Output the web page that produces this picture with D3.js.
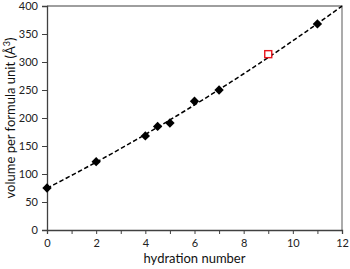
<!DOCTYPE html>
<html>
<head>
<meta charset="utf-8">
<script src="https://cdn.jsdelivr.net/npm/d3@7"></script>
<style>
  body { margin: 0; background: #fff; }
  text { font-family: "Lato", "Open Sans", sans-serif; }
</style>
</head>
<body>
<svg id="chart" width="350" height="269"></svg>
<script>
// measured hydrates (hydration number, volume per formula unit)
var hydration = [0, 2, 4, 4.5, 5, 6, 7, 11];
var volume = [75, 122, 168, 185, 191, 230, 250, 368];
// predicted point (open red square)
var predHydration = [9];
var predVolume = [314];
var xTicks = [0, 2, 4, 6, 8, 10, 12];
var yTicks = [0, 50, 100, 150, 200, 250, 300, 350, 400];

var margin = {top: 6, right: 8, bottom: 39, left: 47}
  , width = 350 - margin.left - margin.right
  , height = 269 - margin.top - margin.bottom;

var x = d3.scaleLinear().domain([0, 12]).range([0, width]);
var y = d3.scaleLinear().domain([0, 400]).range([height, 0]);

var svg = d3.select("#chart");
var g = svg.append("g")
  .attr("transform", "translate(" + margin.left + "," + margin.top + ")");

// frame (top / right)
g.append("path")
  .attr("d", "M0,0H" + width + "V" + height)
  .attr("fill", "none")
  .attr("stroke", "#7f7f7f")
  .attr("stroke-width", 1.3);

// x axis
var xAxis = g.append("g")
  .attr("transform", "translate(0," + height + ")")
  .call(d3.axisBottom(x).tickValues(d3.range(0, 13, 1)).tickSize(4).tickFormat(d => xTicks.includes(d) ? d : ""));
xAxis.select(".domain").attr("stroke", "#404040").attr("stroke-width", 1.3);
xAxis.selectAll("line").attr("stroke", "#404040");
xAxis.selectAll("text").attr("font-size", 11).attr("fill", "#222").attr("dy", "0.95em");

// y axis
var yAxis = g.append("g")
  .call(d3.axisLeft(y).tickValues(yTicks).tickSize(5).tickPadding(4));
yAxis.select(".domain").attr("stroke", "#404040").attr("stroke-width", 1.3);
yAxis.selectAll("line").attr("stroke", "#404040");
yAxis.selectAll("text").attr("font-size", 11).attr("fill", "#222");

// quadratic least squares trend line through the measured points
function quadFit(xs, ys) {
  var s = [0, 0, 0, 0, 0], t = [0, 0, 0];
  xs.forEach((xv, i) => {
    for (var k = 0; k < 5; k++) s[k] += Math.pow(xv, k);
    for (var k = 0; k < 3; k++) t[k] += ys[i] * Math.pow(xv, k);
  });
  var A = [[s[0], s[1], s[2], t[0]], [s[1], s[2], s[3], t[1]], [s[2], s[3], s[4], t[2]]];
  for (var i = 0; i < 3; i++) {
    for (var j = i + 1; j < 3; j++) {
      var f = A[j][i] / A[i][i];
      for (var k = i; k < 4; k++) A[j][k] -= f * A[i][k];
    }
  }
  var c = [0, 0, 0];
  for (var i = 2; i >= 0; i--) {
    var sum = A[i][3];
    for (var k = i + 1; k < 3; k++) sum -= A[i][k] * c[k];
    c[i] = sum / A[i][i];
  }
  return c;
}
var coef = quadFit(hydration, volume);
var fitPts = d3.range(0, 12.01, 0.1).map(xv => [xv, coef[0] + coef[1] * xv + coef[2] * xv * xv]);

g.append("path")
  .datum(fitPts)
  .attr("fill", "none")
  .attr("stroke", "#000")
  .attr("stroke-width", 1.5)
  .attr("stroke-dasharray", "4.5,2.5")
  .attr("d", d3.line().x(d => x(d[0])).y(d => y(d[1])));

// diamonds
g.selectAll("path.pt")
  .data(hydration)
  .enter().append("path")
  .attr("class", "pt")
  .attr("d", d3.symbol().type(d3.symbolDiamond2).size(56))
  .attr("transform", (d, i) => "translate(" + x(d) + "," + y(volume[i]) + ")")
  .attr("fill", "#000");

// red square
g.selectAll("rect.pred")
  .data(predHydration)
  .enter().append("rect")
  .attr("class", "pred")
  .attr("x", d => x(d) - 3.5)
  .attr("y", (d, i) => y(predVolume[i]) - 3.5)
  .attr("width", 7)
  .attr("height", 7)
  .attr("fill", "#fff")
  .attr("stroke", "#e8141b")
  .attr("stroke-width", 1.4);

// axis titles
svg.append("text")
  .attr("x", margin.left + width / 2)
  .attr("y", 263)
  .attr("text-anchor", "middle")
  .attr("font-size", 13)
  .attr("fill", "#111")
  .text("hydration number");

svg.append("text")
  .attr("transform", "translate(15," + (margin.top + height / 2) + ") rotate(-90)")
  .attr("text-anchor", "middle")
  .attr("font-size", 13)
  .attr("fill", "#111")
  .text("volume per formula unit (Å")
  .append("tspan")
  .attr("dy", -5)
  .attr("font-size", 9)
  .text("3")
  .select(function() { return this.parentNode; })
  .append("tspan")
  .attr("dy", 5)
  .text(")");
</script>
</body>
</html>
